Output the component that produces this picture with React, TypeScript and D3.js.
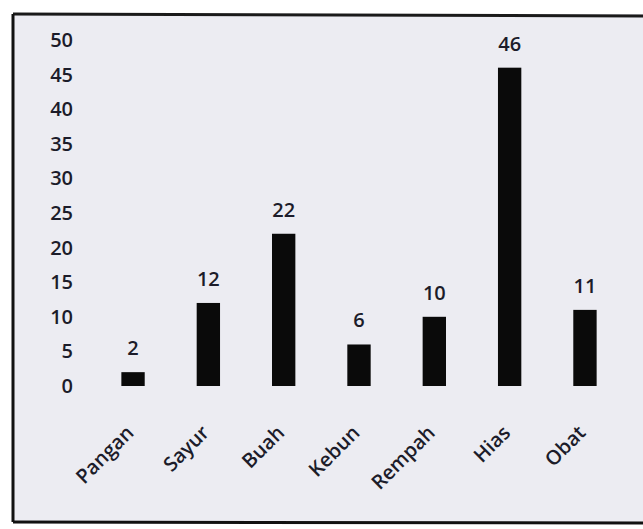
import React from "react";
import * as d3 from "d3";

const categories = ["Pangan", "Sayur", "Buah", "Kebun", "Rempah", "Hias", "Obat"];
const values = [2, 12, 22, 6, 10, 46, 11];
const yTicks = [0, 5, 10, 15, 20, 25, 30, 35, 40, 45, 50];

const W = 643;
const H = 529;

export default function App() {
  const x = d3.scaleBand<string>().domain(categories).range([95, 623]).paddingInner(0.69).paddingOuter(0.35);
  const y = d3.scaleLinear().domain([0, 50]).range([386, 40]);
  const font = "'Open Sans', 'DejaVu Sans', sans-serif";
  const fs = 20;
  return (
    <svg width={W} height={H} style={{ position: "absolute", left: 0, top: 0 }}>
      <rect x={0} y={0} width={W} height={H} fill="#ffffff" />
      <rect x={13} y={14} width={W} height={508} fill="#ececf2" />
      <line x1={13} y1={14} x2={W} y2={16} stroke="#1a1a1a" strokeWidth={3} />
      <line x1={13} y1={14} x2={13} y2={522} stroke="#111" strokeWidth={3} />
      <line x1={13} y1={522} x2={W} y2={523} stroke="#111" strokeWidth={3} />
      {yTicks.map((t) => (
        <text key={t} x={73} y={y(t)} dy="0.35em" textAnchor="end" fontFamily={font}
          fontSize={fs} fontWeight={600} fill="#1c1c2a">{t}</text>
      ))}
      {categories.map((c, i) => {
        const bx = x(c)!;
        const bw = x.bandwidth();
        const cx = bx + bw / 2;
        return (
          <g key={c}>
            <rect x={bx} y={y(values[i])} width={bw} height={y(0) - y(values[i])} fill="#0a0a0a" />
            <text x={cx} y={y(values[i]) - 17} textAnchor="middle" fontFamily={font}
              fontSize={fs} fontWeight={600} fill="#1c1c2a">{values[i]}</text>
            <text transform={`translate(${cx + 2},${434}) rotate(-45)`} textAnchor="end"
              fontFamily={font} fontSize={fs} fontWeight={600} fill="#1c1c2a">{c}</text>
          </g>
        );
      })}
    </svg>
  );
}
